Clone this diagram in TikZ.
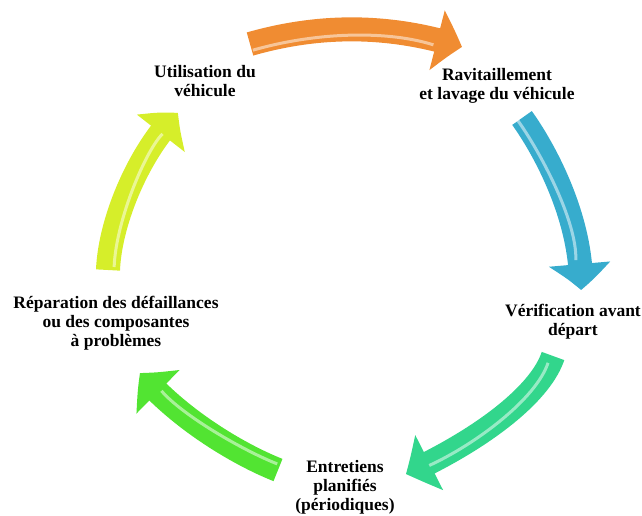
\documentclass[tikz,border=0pt]{standalone}
\usepackage{fontspec}
\setmainfont{Liberation Serif}
\usetikzlibrary{arrows.meta,bending}
\definecolor{orangeF}{RGB}{240,140,50}
\definecolor{cyanF}{RGB}{55,172,205}
\definecolor{turquoiseF}{RGB}{50,214,140}
\definecolor{vertF}{RGB}{82,228,50}
\definecolor{jauneF}{RGB}{214,238,42}
\begin{document}
\begin{tikzpicture}[x=1pt, y=-1pt, font={\fontsize{17.5}{19}\selectfont\bfseries}, line join=round,
	fleche/.style={line width=24pt, -{Triangle[width=60pt,length=26pt,bend]}},
	reflet/.style={line width=3pt, white, opacity=.5, shorten >=30pt, shorten <=3pt},
	etape/.style={align=center, inner sep=0pt}]
	\useasboundingbox (0,0) rectangle (642,516);
	% Points des fleches
	\coordinate (o1) at (250,44); \coordinate (o2) at (462,47);
	\coordinate (c1) at (522,118); \coordinate (c2) at (581,290);
	\coordinate (t1) at (553,356); \coordinate (t2) at (406,474);
	\coordinate (v1) at (278,470); \coordinate (v2) at (140,373);
	\coordinate (j1) at (108,270); \coordinate (j2) at (178,113);
	% Fleches du cycle
	\draw[fleche, orangeF] (o1) .. controls (320,24) and (390,24) .. (o2);
	\draw[reflet] ([yshift=-7pt]o1) .. controls ([yshift=-7pt]320,24) and ([yshift=-7pt]390,24) .. ([yshift=-7pt]o2);
	\draw[fleche, cyanF] (c1) .. controls (545,150) and (583,220) .. (c2);
	\draw[reflet] ([xshift=-6pt]c1) .. controls ([xshift=-6pt]545,150) and ([xshift=-6pt]583,220) .. ([xshift=-6pt]c2);
	\draw[fleche, turquoiseF] (t1) .. controls (540,395) and (480,440) .. (t2);
	\draw[reflet] ([shift={(-4pt,-4pt)}]t1) .. controls ([shift={(-4pt,-4pt)}]540,395) and ([shift={(-4pt,-4pt)}]480,440) .. ([shift={(-4pt,-4pt)}]t2);
	\draw[fleche, vertF] (v1) .. controls (240,455) and (180,420) .. (v2);
	\draw[reflet] ([shift={(2pt,5pt)}]v1) .. controls ([shift={(2pt,5pt)}]240,455) and ([shift={(2pt,5pt)}]180,420) .. ([shift={(2pt,5pt)}]v2);
	\draw[fleche, jauneF] (j1) .. controls (110,220) and (140,150) .. (j2);
	\draw[reflet] ([xshift=6pt]j1) .. controls ([xshift=6pt]110,220) and ([xshift=6pt]140,150) .. ([xshift=6pt]j2);
	% Etapes
	\node[etape] (utilisation) at (205,81) {Utilisation du\\véhicule};
	\node[etape] (ravitaillement) at (497,86) {Ravitaillement\\et lavage du véhicule};
	\node[etape] (verification) at (573,322) {Vérification avant\\départ};
	\node[etape] (entretiens) at (345,487) {Entretiens\\planifiés\\(périodiques)};
	\node[etape] (reparation) at (116,323) {Réparation des défaillances\\ou des composantes\\à problèmes};
\end{tikzpicture}
\end{document}
